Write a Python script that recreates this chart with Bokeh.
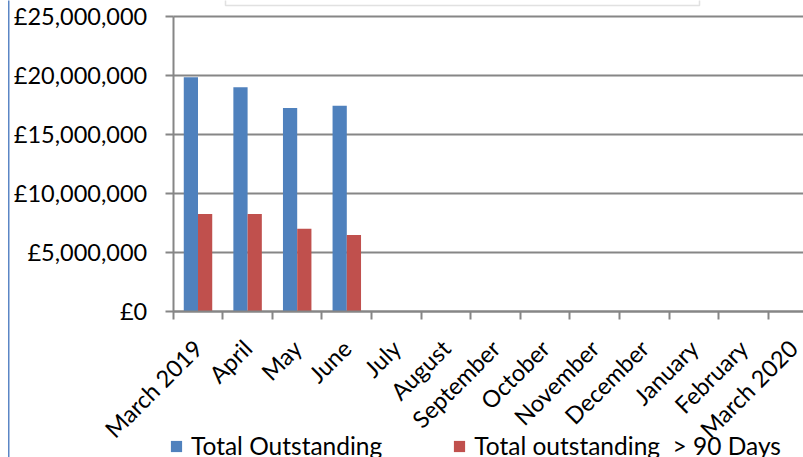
import math
import numpy as np
from bokeh.plotting import figure
from bokeh.models import (Range1d, FixedTicker, Legend, LegendItem, BoxAnnotation,
                          ColumnDataSource)
from bokeh.embed import file_html
from bokeh.resources import INLINE

# ---- data ----
months = ["March 2019", "April", "May", "June", "July", "August", "September",
          "October", "November", "December", "January", "February", "March 2020"]
total_outstanding = [19_800_000, 18_970_000, 17_210_000, 17_390_000,
                     None, None, None, None, None, None, None, None, None]
outstanding_over_90 = [8_220_000, 8_220_000, 6_980_000, 6_440_000,
                       None, None, None, None, None, None, None, None, None]
y_ticks = [0, 5_000_000, 10_000_000, 15_000_000, 20_000_000, 25_000_000]
series_names = ["Total Outstanding", "Total outstanding  > 90 Days"]

BLUE = "#4F81BD"
RED = "#C0504D"
GRID = "#868686"
FONT = "Lato"
FS = "23.5px"

n = len(months)
bar_w = 0.287
idx = [i for i in range(n) if total_outstanding[i] is not None]
centers = np.array(idx, dtype=float) + 0.5
src = ColumnDataSource(dict(
    xb=centers - bar_w / 2,
    xr=centers + bar_w / 2,
    total=[total_outstanding[i] for i in idx],
    over=[outstanding_over_90[i] for i in idx],
))

# the frame spans the whole canvas; axes are pinned at value 0 / category 0
X_LEFT, X_RIGHT = -3.482, 12.708
Y_TOP, Y_BOT = 26_314_000, -12_415_000
p = figure(width=803, height=457, output_backend="svg", toolbar_location=None,
           x_range=Range1d(X_LEFT, X_RIGHT), y_range=Range1d(Y_BOT, Y_TOP),
           min_border_left=0, min_border_right=0, min_border_top=0,
           min_border_bottom=0)
p.outline_line_color = None
p.background_fill_color = "white"
p.border_fill_color = "white"

rb = p.vbar(x="xb", top="total", width=bar_w, source=src, fill_color=BLUE,
            line_color=None)
rr = p.vbar(x="xr", top="over", width=bar_w, source=src, fill_color=RED,
            line_color=None)

# y axis, pinned at x = 0
p.yaxis.fixed_location = 0
p.yaxis.ticker = FixedTicker(ticks=y_ticks)
p.yaxis.bounds = (0, 25_000_000)
p.yaxis.major_label_overrides = {v: f"£{v:,}" for v in y_ticks}
p.yaxis.axis_line_color = GRID
p.yaxis.axis_line_width = 2
p.yaxis.major_tick_line_color = GRID
p.yaxis.major_tick_line_width = 2
p.yaxis.major_tick_out = 8
p.yaxis.major_tick_in = 0
p.yaxis.minor_tick_line_color = None
p.yaxis.major_label_standoff = 18
p.yaxis.major_label_text_font = FONT
p.yaxis.major_label_text_font_size = FS
p.yaxis.major_label_text_color = "black"

# x axis, pinned at value 0
label_pos = [i + 0.5 for i in range(n)]
p.xaxis.fixed_location = 0
p.xaxis.bounds = (0, n)
p.xaxis.ticker = FixedTicker(ticks=label_pos, minor_ticks=list(range(n + 1)))
p.xaxis.major_label_overrides = {i + 0.5: m for i, m in enumerate(months)}
p.xaxis.major_label_orientation = math.pi / 4
p.xaxis.major_tick_out = 0
p.xaxis.major_tick_in = 0
p.xaxis.minor_tick_out = 8
p.xaxis.minor_tick_in = 0
p.xaxis.minor_tick_line_color = GRID
p.xaxis.minor_tick_line_width = 2
p.xaxis.axis_line_color = GRID
p.xaxis.axis_line_width = 2
p.xaxis.major_label_standoff = 25
p.xaxis.major_label_text_font = FONT
p.xaxis.major_label_text_font_size = FS
p.xaxis.major_label_text_color = "black"

p.xgrid.grid_line_color = None
p.ygrid.ticker = FixedTicker(ticks=y_ticks)
p.ygrid.cross_bounds = (0, n)
p.ygrid.grid_line_color = GRID
p.ygrid.grid_line_width = 2

# page border line on the left and the cut-off (empty) title box at the top
p.add_layout(BoxAnnotation(left=7.5, right=9, top=-5, bottom=470,
                           left_units="canvas", right_units="canvas",
                           top_units="canvas", bottom_units="canvas",
                           fill_color="#5b86c5", fill_alpha=1, line_color=None))
p.add_layout(BoxAnnotation(left=225, right=699, top=-10, bottom=5,
                           left_units="canvas", right_units="canvas",
                           top_units="canvas", bottom_units="canvas",
                           fill_alpha=0, line_color="#9a9a9a", line_width=1.5))

legend = Legend(items=[LegendItem(label=series_names[0], renderers=[rb]),
                       LegendItem(label=series_names[1], renderers=[rr])],
                location=(169, -3), orientation="horizontal", padding=0, margin=0,
                spacing=70, border_line_color=None, background_fill_alpha=0,
                glyph_width=14, glyph_height=14, label_standoff=8,
                label_text_font=FONT, label_text_font_size="24.5px",
                label_text_color="black")
p.add_layout(legend)

open("out.html", "w").write(file_html(p, INLINE))
